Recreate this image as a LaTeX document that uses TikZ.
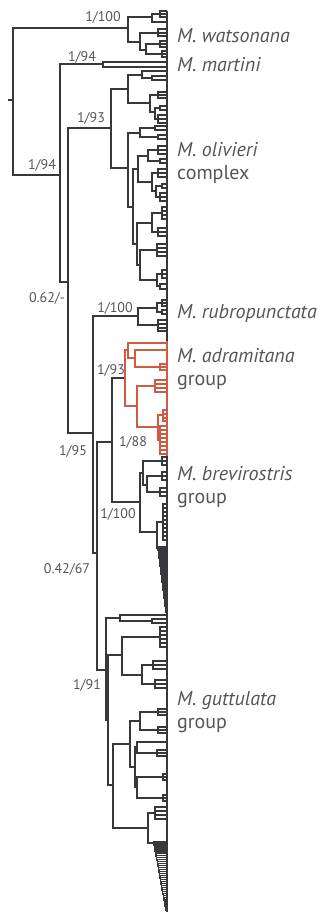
\documentclass[tikz,border=0pt]{standalone}
\usepackage{fontspec}
\setmainfont{PT Sans}
\definecolor{branch}{RGB}{55,55,60}
\definecolor{adra}{RGB}{206,92,68}
\definecolor{labelgray}{RGB}{85,85,88}

\newcommand\tipx{167}
% clade helpers: bracket a node to its children / to the tip line
\newcommand\kids[2]{\foreach \ch in {#2} {\draw (#1) |- (\ch);}}
\newcommand\tips[2]{\foreach \ty in {#2} {\draw (#1) |- (\tipx,\ty);}}
\newcommand\ladder[5]{%
    \foreach \k in {1,...,#5} {%
        \pgfmathsetmacro\lxa{#1+(#3-#1)*(\k-1)/#5}%
        \pgfmathsetmacro\lya{#2+(#4-#2)*(\k-1)/#5}%
        \pgfmathsetmacro\lxb{#1+(#3-#1)*\k/#5}%
        \pgfmathsetmacro\lyb{#2+(#4-#2)*\k/#5}%
        \draw (\lxa,\lya) |- (\tipx,\lya-1);
        \draw (\lxa,\lya) |- (\lxb,\lyb);
    }}

\begin{document}
\begin{tikzpicture}[x=1pt, y=-1pt,
    species/.style={anchor=base west, inner sep=0pt, align=left, text=labelgray,
                    font=\fontsize{20}{23}\selectfont},
    support/.style={anchor=base, inner sep=0pt, text=labelgray,
                    font=\fontsize{14}{16}\selectfont}]
    \useasboundingbox (0,0) rectangle (324,917);

    % internal nodes
    \coordinate (r0) at (8,100);     \coordinate (r) at (13,100);
    \coordinate (w) at (128,28);     \coordinate (w1) at (152,17);
    \coordinate (w1a) at (160,14);   \coordinate (w2) at (140,42);
    \coordinate (w2a) at (158,33);   \coordinate (w2b) at (146,50);
    \coordinate (w2c) at (160,44);   \coordinate (w2d) at (162,54);
    \coordinate (n1) at (60,175);    \coordinate (m) at (103,64);
    \coordinate (n2) at (68,282);    \coordinate (o) at (111,128);
    \coordinate (o1) at (128,89);    \coordinate (o1a) at (142,75);
    \coordinate (o1a1) at (152,78);  \coordinate (o1b) at (150,103);
    \coordinate (o1b1) at (158,95);  \coordinate (o1b2) at (155,112);
    \coordinate (o1b3) at (160,108); \coordinate (o1b4) at (158,119);
    \coordinate (o2) at (128,168);   \coordinate (o2a) at (140,133);
    \coordinate (o2a1) at (155,128); \coordinate (o2a2) at (158,137);
    \coordinate (o2b) at (133,207);  \coordinate (o2c) at (138,169);
    \coordinate (o2e) at (148,156);  \coordinate (o2e1) at (158,150);
    \coordinate (o2e2) at (160,161); \coordinate (o2f) at (152,182);
    \coordinate (o2f1) at (158,173); \coordinate (o2f2) at (156,191);
    \coordinate (o2f3) at (162,186); \coordinate (o2f4) at (160,197);
    \coordinate (o2d) at (137,244);  \coordinate (o2g) at (152,223);
    \coordinate (o2g1) at (162,213); \coordinate (o2g2) at (158,232);
    \coordinate (o2h) at (140,265);  \coordinate (o2h1) at (157,250);
    \coordinate (o2h2) at (157,280); \coordinate (o2h3) at (162,274);
    \coordinate (o2h4) at (160,286);
    \coordinate (n3) at (93,433);    \coordinate (rb) at (138,316);
    \coordinate (rb1) at (157,308);  \coordinate (rb1a) at (162,303);
    \coordinate (rb1b) at (162,312); \coordinate (rb2) at (158,325);
    \coordinate (n4) at (97,553);    \coordinate (n5) at (112,442);
    \coordinate (a) at (125,378);    \coordinate (a1) at (128,350);
    \coordinate (a1b) at (135,358);  \coordinate (a1c) at (160,367);
    \coordinate (a2) at (137,406);   \coordinate (a3) at (155,386);
    \coordinate (a4) at (158,427);   \coordinate (a4a) at (163,415);
    \coordinate (a4b) at (160,440);
    \coordinate (b) at (140,502);    \coordinate (b1) at (143,473);
    \coordinate (b1a) at (162,461);  \coordinate (b1b) at (147,485);
    \coordinate (b1c) at (162,476);  \coordinate (b1d) at (160,492);
    \coordinate (b2) at (157,532);   \coordinate (b2a) at (163,522);
    \coordinate (b2b) at (158,548);
    \coordinate (g) at (106,670);    \coordinate (g1) at (120,618);
    \coordinate (g1a) at (152,621);  \coordinate (gg) at (108,720);
    \coordinate (g2) at (122,655);   \coordinate (g2a) at (160,637);
    \coordinate (g2b) at (142,675);  \coordinate (g2c) at (153,665);
    \coordinate (g2d) at (155,684);  \coordinate (g3) at (113,785);
    \coordinate (g3a) at (130,744);  \coordinate (g3c) at (140,721);
    \coordinate (g3c1) at (158,712); \coordinate (g3c2) at (158,730);
    \coordinate (g3d) at (135,767);  \coordinate (g3e) at (137,747);
    \coordinate (g3e1) at (157,753); \coordinate (g3f) at (137,787);
    \coordinate (g3f1) at (163,777); \coordinate (g3f2) at (163,798);
    \coordinate (g3b) at (148,828);  \coordinate (g3b1) at (155,813);
    \coordinate (g3g) at (154,843);

    \begin{scope}[color=branch, line width=1.3pt]
        \draw (r0) -- (r);
        \kids{r}{w,n1}
        \kids{w}{w1,w2}    \kids{w1}{w1a}   \tips{w1}{22}  \tips{w1a}{11,14,17}
        \kids{w2}{w2a,w2b} \tips{w2a}{29,33,36}
        \kids{w2b}{w2c,w2d} \tips{w2c}{41,44,47} \tips{w2d}{51,54,57}
        \kids{n1}{m,n2}    \tips{m}{62,67}
        \kids{n2}{o,n3}
        \kids{o}{o1,o2}
        \kids{o1}{o1a,o1b} \tips{o1a}{71} \kids{o1a}{o1a1} \tips{o1a1}{76,80}
        \kids{o1b}{o1b1,o1b2} \tips{o1b1}{92,95,98}
        \kids{o1b2}{o1b3,o1b4} \tips{o1b3}{106,110} \tips{o1b4}{115,119,123}
        \kids{o2}{o2a,o2b}
        \kids{o2a}{o2a1,o2a2} \tips{o2a1}{126,130} \tips{o2a2}{135,139}
        \kids{o2b}{o2c,o2d}
        \kids{o2c}{o2e,o2f}
        \kids{o2e}{o2e1,o2e2} \tips{o2e1}{146,150,154} \tips{o2e2}{159,163}
        \kids{o2f}{o2f1,o2f2} \tips{o2f1}{169,173,177}
        \kids{o2f2}{o2f3,o2f4} \tips{o2f3}{184,188} \tips{o2f4}{193,197,201}
        \kids{o2d}{o2g,o2h}
        \kids{o2g}{o2g1,o2g2} \tips{o2g1}{207,211,215,219} \tips{o2g2}{228,232,236}
        \kids{o2h}{o2h1,o2h2} \tips{o2h1}{244,248,252,256}
        \kids{o2h2}{o2h3,o2h4} \tips{o2h3}{270,274,278} \tips{o2h4}{284,289}
        \kids{n3}{rb,n4}
        \kids{rb}{rb1,rb2} \kids{rb1}{rb1a,rb1b}
        \tips{rb1a}{300,303,306} \tips{rb1b}{310,314} \tips{rb2}{320,324,328,331}
        \kids{n4}{n5,g}
        \kids{n5}{a,b}
        \kids{b}{b1,b2}
        \kids{b1}{b1a,b1b} \tips{b1a}{457,461,465}
        \kids{b1b}{b1c,b1d} \tips{b1c}{472,476,480} \tips{b1d}{488,492,496}
        \kids{b2}{b2a,b2b} \tips{b2a}{504,508,...,540}
        \ladder{158}{548}{166}{612}{32}
        \kids{g}{g1,gg}
        \tips{g1}{615} \kids{g1}{g1a} \tips{g1a}{619,623}
        \kids{gg}{g2,g3}
        \kids{g2}{g2a,g2b} \tips{g2a}{627,631,...,647}
        \kids{g2b}{g2c,g2d} \tips{g2c}{661,665,669} \tips{g2d}{680,684,688}
        \kids{g3}{g3a,g3b}
        \kids{g3a}{g3c,g3d}
        \kids{g3c}{g3c1,g3c2} \tips{g3c1}{709,712,715} \tips{g3c2}{727,730,733}
        \kids{g3d}{g3e,g3f}
        \tips{g3e}{742} \kids{g3e}{g3e1} \tips{g3e1}{750,753,756}
        \kids{g3f}{g3f1,g3f2} \tips{g3f1}{774,777,780} \tips{g3f2}{795,798,801}
        \kids{g3b}{g3b1,g3g} \tips{g3b1}{807,811,815,819}
        \ladder{154}{843}{166}{910}{34}
        \draw (\tipx,11) -- (\tipx,912);
    \end{scope}

    % M. adramitana group in red
    \begin{scope}[color=adra, line width=1.3pt]
        \kids{a}{a1,a2}
        \tips{a1}{343} \kids{a1}{a1b}
        \tips{a1b}{350} \kids{a1b}{a1c} \tips{a1c}{364,367,370}
        \kids{a2}{a3,a4} \tips{a3}{380,384,388,392}
        \kids{a4}{a4a,a4b} \tips{a4a}{410,414,418,421} \tips{a4b}{426,430,...,454}
        \draw (\tipx,341) -- (\tipx,456);
    \end{scope}

    \node[species] (lwat) at (177,43)  {\textit{M. watsonana}};
    \node[species] (lmar) at (177,72)  {\textit{M. martini}};
    \node[species] (loli) at (177,180) {\textit{M. olivieri}\\complex};
    \node[species] (lrub) at (177,318) {\textit{M. rubropunctata}};
    \node[species] (ladr) at (177,385) {\textit{M. adramitana}\\group};
    \node[species] (lbre) at (177,503) {\textit{M. brevirostris}\\group};
    \node[species] (lgut) at (177,728) {\textit{M. guttulata}\\group};

    \node[support] (swat) at (103,22)  {1/100};
    \node[support] (smar) at (82,62)   {1/94};
    \node[support] (soli) at (91,123)  {1/93};
    \node[support] (sroot) at (42,170) {1/94};
    \node[support] (sn2) at (47,302)   {0.62/-};
    \node[support] (srub) at (115,312) {1/100};
    \node[support] (sadr) at (111,374) {1/93};
    \node[support] (sn3) at (73,455)   {1/95};
    \node[support] (sn5) at (133,446)  {1/88};
    \node[support] (sbre) at (118,518) {1/100};
    \node[support] (sn4) at (67,573)   {0.42/67};
    \node[support] (sgut) at (87,689)  {1/91};
\end{tikzpicture}
\end{document}
